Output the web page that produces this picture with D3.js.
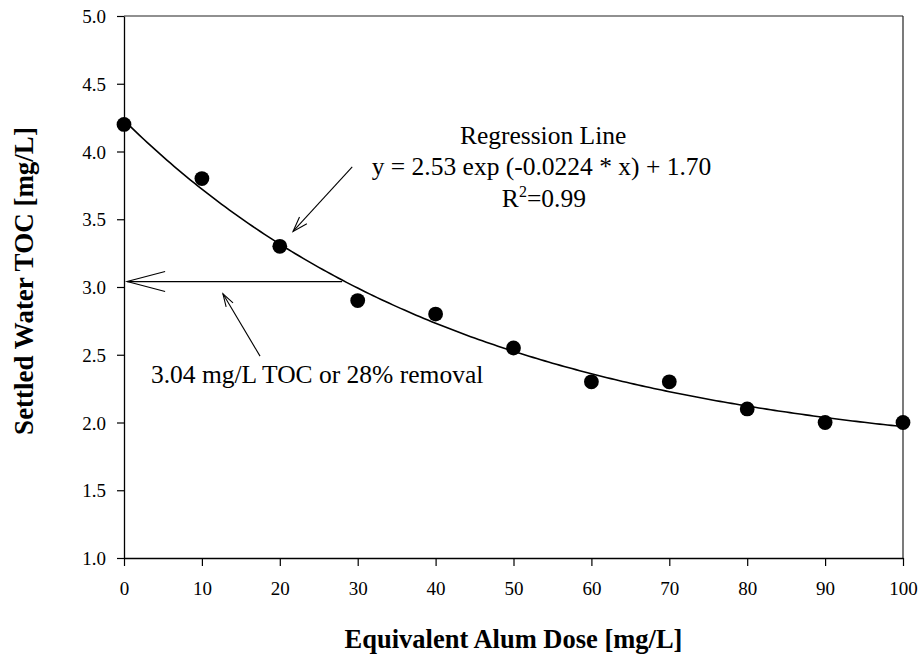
<!DOCTYPE html>
<html>
<head>
<meta charset="utf-8">
<script src="https://cdn.jsdelivr.net/npm/d3@7"></script>
<style>
  html, body { margin: 0; padding: 0; background: #fff; }
  svg { display: block; font-family: "Liberation Serif", "Times New Roman", serif; }
</style>
</head>
<body>
<svg id="chart" width="923" height="660"></svg>
<script>
// Jar-test results: alum dose vs settled water TOC
const doses = [0, 10, 20, 30, 40, 50, 60, 70, 80, 90, 100];
const tocValues = [4.2, 3.8, 3.3, 2.9, 2.8, 2.55, 2.3, 2.3, 2.1, 2.0, 2.0];

// Exponential regression y = a * exp(b * x) + c
const fitCoefs = [2.53, -0.0224, 1.70];
const rSquared = 0.99;

// Target TOC level
const targetToc = 3.04;
const targetRemoval = 28;

const xTicks = [0, 10, 20, 30, 40, 50, 60, 70, 80, 90, 100];
const yTicks = [1.0, 1.5, 2.0, 2.5, 3.0, 3.5, 4.0, 4.5, 5.0];

const serif = "'Liberation Serif', 'Times New Roman', serif";
const width = 923, height = 660;
const margin = { top: 16, right: 20, bottom: 102, left: 124 };

const svg = d3.select("#chart");

const x = d3.scaleLinear().domain([0, 100]).range([margin.left, width - margin.right]);
const y = d3.scaleLinear().domain([1, 5]).range([height - margin.bottom, margin.top]);

// Frame on top and right
svg.append("line")
  .attr("x1", x(0)).attr("x2", x(100)).attr("y1", y(5)).attr("y2", y(5))
  .attr("stroke", "#222").attr("stroke-width", 1.2);
svg.append("line")
  .attr("x1", x(100)).attr("x2", x(100)).attr("y1", y(5)).attr("y2", y(1))
  .attr("stroke", "#222").attr("stroke-width", 1.2);

// Axes
const xAxis = svg.append("g")
  .attr("transform", `translate(0,${y(1)})`)
  .call(d3.axisBottom(x).tickValues(xTicks).tickFormat(d3.format("d"))
        .tickSizeInner(8).tickSizeOuter(0).tickPadding(16));
const yAxis = svg.append("g")
  .attr("transform", `translate(${x(0)},0)`)
  .call(d3.axisLeft(y).tickValues(yTicks).tickFormat(d3.format(".1f"))
        .tickSizeInner(7).tickSizeOuter(0).tickPadding(11));

[xAxis, yAxis].forEach(g => {
  g.attr("font-family", serif).attr("font-size", 19);
  g.select(".domain").attr("stroke", "#000").attr("stroke-width", 1.3);
  g.selectAll(".tick line").attr("stroke", "#000").attr("stroke-width", 1.2);
  g.selectAll(".tick text")
    .attr("fill", "#000")
    .attr("font-family", serif)
    .attr("font-size", 19);
});
yAxis.selectAll(".tick text").attr("dy", "0.35em");

// Axis titles
svg.append("text")
  .attr("x", (x(0) + x(100)) / 2)
  .attr("y", 648)
  .attr("text-anchor", "middle")
  .attr("font-family", serif)
  .attr("font-weight", "bold")
  .attr("font-size", 26.5)
  .text("Equivalent Alum Dose [mg/L]");

svg.append("text")
  .attr("transform", `translate(33,${(y(1) + y(5)) / 2 - 6}) rotate(-90)`)
  .attr("text-anchor", "middle")
  .attr("font-family", serif)
  .attr("font-weight", "bold")
  .attr("font-size", 27)
  .text("Settled Water TOC [mg/L]");

// Regression curve
const [fa, fb, fc] = fitCoefs;
const curveX = d3.range(0, 100.5, 0.5);
const line = d3.line()
  .x(d => x(d))
  .y(d => y(fa * Math.exp(fb * d) + fc));
svg.append("path")
  .datum(curveX)
  .attr("d", line)
  .attr("fill", "none")
  .attr("stroke", "#000")
  .attr("stroke-width", 1.6);

// Observed points
svg.append("g")
  .selectAll("circle")
  .data(doses.map((d, i) => [d, tocValues[i]]))
  .join("circle")
  .attr("cx", d => x(d[0]))
  .attr("cy", d => y(d[1]))
  .attr("r", 7.4)
  .attr("fill", "#000");

// Open-V arrow helper: from (x1,y1) to tip (x2,y2)
function arrow(p1, p2, headLen, headHalf) {
  const sx = x(p1[0]), sy = y(p1[1]), tx = x(p2[0]), ty = y(p2[1]);
  const ang = Math.atan2(ty - sy, tx - sx);
  const ux = Math.cos(ang), uy = Math.sin(ang);
  const bx = tx - ux * headLen, by = ty - uy * headLen;
  const px = -uy * headHalf, py = ux * headHalf;
  const g = svg.append("g").attr("stroke", "#000").attr("stroke-width", 1.1).attr("fill", "none");
  g.append("line").attr("x1", sx).attr("y1", sy).attr("x2", tx).attr("y2", ty);
  g.append("path").attr("d", `M${bx + px},${by + py}L${tx},${ty}L${bx - px},${by - py}`);
}

// Horizontal arrow pointing at the target TOC on the y axis
arrow([28, targetToc], [0.4, targetToc], 38, 10);
// Pointer from the target label to the horizontal arrow
arrow([17.46, 2.49], [12.7, 2.95], 13, 4);
// Pointer from the equation to the curve
arrow([29.3, 3.886], [21.7, 3.41], 15, 5);

// Equation block
const eq = svg.append("g")
  .attr("text-anchor", "middle")
  .attr("font-family", serif)
  .attr("font-size", 25.5)
  .attr("fill", "#000");
eq.append("text").attr("x", x(53.8)).attr("y", y(4.055)).text("Regression Line");
eq.append("text").attr("x", x(53.6)).attr("y", y(3.825))
  .text(`y = ${fa.toFixed(2)} exp (${fb.toFixed(4)} * x) + ${fc.toFixed(2)}`);
const r2 = eq.append("text").attr("x", x(53.9)).attr("y", y(3.59));
r2.append("tspan").text("R");
r2.append("tspan").attr("dy", "-10").attr("font-size", 16).text("2");
r2.append("tspan").attr("dy", "10").text(`=${rSquared.toFixed(2)}`);

// Target label
svg.append("text")
  .attr("x", x(3.45))
  .attr("y", y(2.29))
  .attr("font-family", serif)
  .attr("font-size", 25.5)
  .text(`${targetToc.toFixed(2)} mg/L TOC or ${targetRemoval}% removal`);
</script>
</body>
</html>
